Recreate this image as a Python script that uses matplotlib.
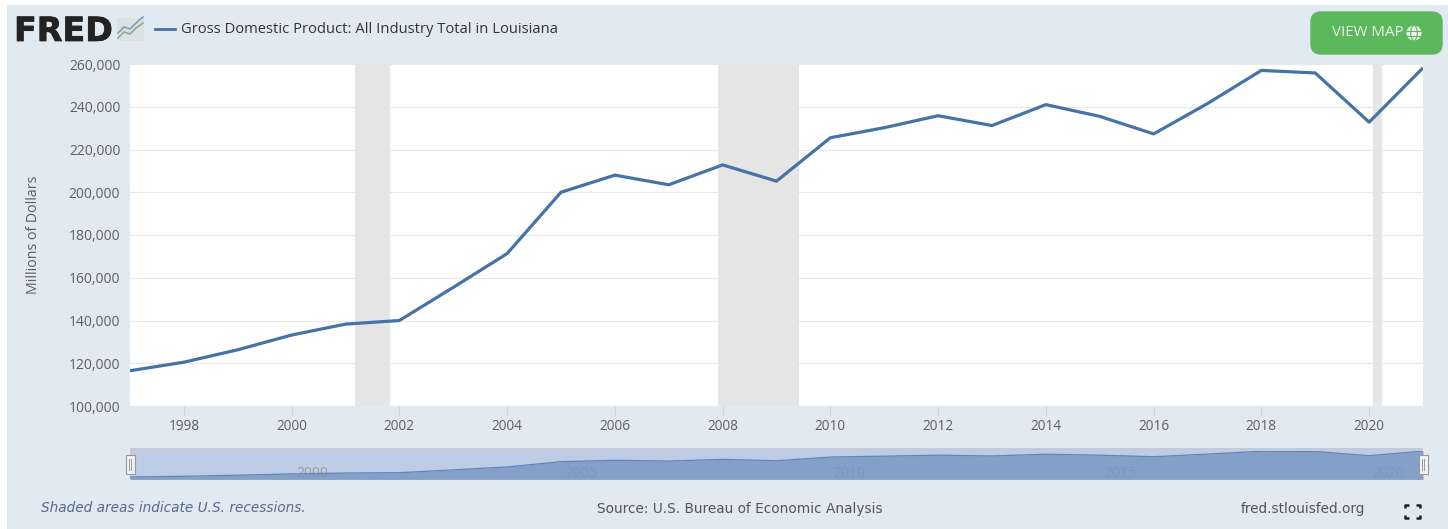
import matplotlib
matplotlib.use('Agg')
import matplotlib.pyplot as plt
import matplotlib.patheffects as pe
from matplotlib.patches import FancyBboxPatch, Rectangle, Circle, Ellipse
from matplotlib.ticker import FuncFormatter

W, H = 1448, 529

years = [1997, 1998, 1999, 2000, 2001, 2002, 2003, 2004, 2005, 2006, 2007, 2008,
         2009, 2010, 2011, 2012, 2013, 2014, 2015, 2016, 2017, 2018, 2019, 2020, 2021]
gdp = [116500, 120500, 126300, 133200, 138300, 140000, 155500, 171300, 200000, 208000,
       203500, 212800, 205200, 225500, 230200, 235800, 231200, 241000, 235500, 227300,
       241500, 257000, 255800, 232800, 258200]
recessions = [(2001.17, 2001.83), (2007.92, 2009.41), (2020.08, 2020.24)]
y_ticks = [100000, 120000, 140000, 160000, 180000, 200000, 220000, 240000, 260000]
x_ticks = [1998, 2000, 2002, 2004, 2006, 2008, 2010, 2012, 2014, 2016, 2018, 2020]
nav_labels = ['2000', '2005', '2010', '2015', '2020']
nav_label_pos = [2000.38, 2005.37, 2010.36, 2015.38, 2020.35]

title = 'Gross Domestic Product: All Industry Total in Louisiana'
BG = '#e1e9f1'
LINE = '#4572a7'
TXT = '#5f5f5f'

plt.rcParams['font.family'] = ['Open Sans', 'DejaVu Sans']

fig = plt.figure(figsize=(W / 100, H / 100), dpi=100, facecolor='white')


def px_axes(x0, y0, x1, y1, **kw):
    # axes placed by pixel box, y counted from the top
    return fig.add_axes([x0 / W, 1 - y1 / H, (x1 - x0) / W, (y1 - y0) / H], **kw)


# overlay in pixel coords for panel, logo and button
bg = px_axes(0, 0, W, H)
bg.set_xlim(0, W)
bg.set_ylim(H, 0)
bg.axis('off')
bg.add_patch(Rectangle((7, 5), W - 7, H - 5, fc=BG, ec='none'))

bg.text(14, 41, 'FRED', fontsize=24, fontweight='bold', color='#222222', family='DejaVu Sans',
        va='baseline', ha='left', path_effects=[pe.withStroke(linewidth=0.5, foreground='#222222')])
bg.add_patch(Rectangle((117, 18), 27, 23, fc='#dbe1e4', ec='none'))
bg.plot([118, 124, 130, 136, 143], [33, 27, 29, 23, 17], color='#7f9fb5', lw=1.2)
bg.plot([118, 124, 130, 136, 143], [38, 32, 34, 28, 23], color='#88b084', lw=1.2)
bg.plot([155, 175], [28.5, 28.5], color=LINE, lw=2)
bg.text(181, 29.5, title, fontsize=10.65, color='#333333', va='center', ha='left', fontweight='medium')

bg.add_patch(FancyBboxPatch((1311, 12), 131, 42, boxstyle='round,pad=0,rounding_size=10',
                            fc='#5cb85c', ec='#5cb85c', lw=1))
bg.text(1332, 32.5, 'VIEW MAP', fontsize=10.8, color='#e8f5e8', va='center', ha='left', fontweight='medium')
bg.add_patch(Circle((1414, 33), 7.5, fc='#eaf6ea', ec='none'))
bg.add_patch(Ellipse((1414, 33), 6.5, 15, fc='none', ec='#5cb85c', lw=0.8))
bg.plot([1407, 1421], [30.5, 30.5], color='#5cb85c', lw=0.8)
bg.plot([1407, 1421], [35.5, 35.5], color='#5cb85c', lw=0.8)

# main plot
ax = px_axes(130, 64, 1423, 406, facecolor='white')
for a, b in recessions:
    ax.axvspan(a, b, color='#e5e5e5', lw=0, zorder=1)
ax.plot(years, gdp, color=LINE, lw=2.3, zorder=3, solid_joinstyle='round', solid_capstyle='butt')
ax.set_xlim(1997, 2021)
ax.set_ylim(100000, 260000)
ax.set_xticks(x_ticks)
ax.set_yticks(y_ticks)
ax.yaxis.set_major_formatter(FuncFormatter(lambda v, p: f'{int(v):,}'))
ax.grid(axis='y', color='#e9e9e9', lw=0.9, zorder=0)
ax.set_axisbelow(True)
for s in ax.spines.values():
    s.set_visible(False)
ax.tick_params(axis='x', length=7.2, width=0.8, color='#ccd6eb', labelcolor=TXT, labelsize=9.8, pad=2)
ax.tick_params(axis='y', length=0, labelcolor=TXT, labelsize=10, pad=7)
ax.set_ylabel('Millions of Dollars', fontsize=10.2, color=TXT, labelpad=20)

# navigator strip
nav = px_axes(130, 449, 1423, 479, facecolor='#bccce4')
nav.fill_between(years, gdp, 0, color='#7695c1', alpha=0.8, lw=0, zorder=2)
nav.plot(years, gdp, color='#5f85b8', lw=0.9, zorder=3)
nav.set_xlim(1997, 2021)
nav.set_ylim(105600, 269400)
nav.set_xticks([])
nav.set_yticks([])
for s in nav.spines.values():
    s.set_visible(False)
for lab, xpos in zip(nav_labels, nav_label_pos):
    nav.text(xpos, 133000, lab, fontsize=10, color='#9a9a9a', ha='center', va='center', zorder=1)

# overlay on top for handles and footer
top = px_axes(0, 0, W, H)
top.set_xlim(0, W)
top.set_ylim(H, 0)
top.axis('off')
top.patch.set_alpha(0)
top.add_patch(Rectangle((130, 448), 1293, 3, fc='#c3cbda', ec='none'))
for hx in [130, 1423]:
    top.add_patch(Rectangle((hx - 4.5, 455), 9, 19, fc='#f2f2f2', ec='#999999', lw=0.8, zorder=5))
    top.plot([hx - 1, hx - 1], [459, 470], color='#999999', lw=0.7, zorder=6)
    top.plot([hx + 1, hx + 1], [459, 470], color='#999999', lw=0.7, zorder=6)

top.text(41, 508.5, 'Shaded areas indicate U.S. recessions.', fontsize=9.8, style='italic', color='#5a6a8c',
         family='DejaVu Sans', va='center', ha='left')
top.text(597, 508.5, 'Source: U.S. Bureau of Economic Analysis', fontsize=9.8, color='#555555',
         family='DejaVu Sans', va='center', ha='left')
top.text(1241, 508.5, 'fred.stlouisfed.org', fontsize=9.85, color='#555555', family='DejaVu Sans',
         va='center', ha='left')
# fullscreen icon corners
for cx, cy, dx, dy in [(1405, 505, 1, 1), (1420, 505, -1, 1), (1405, 518, 1, -1), (1420, 518, -1, -1)]:
    top.plot([cx + 4 * dx, cx, cx], [cy, cy, cy + 3 * dy], color='#222222', lw=1.8, solid_capstyle='butt')

fig.savefig('out.png', dpi=100, facecolor='white')
